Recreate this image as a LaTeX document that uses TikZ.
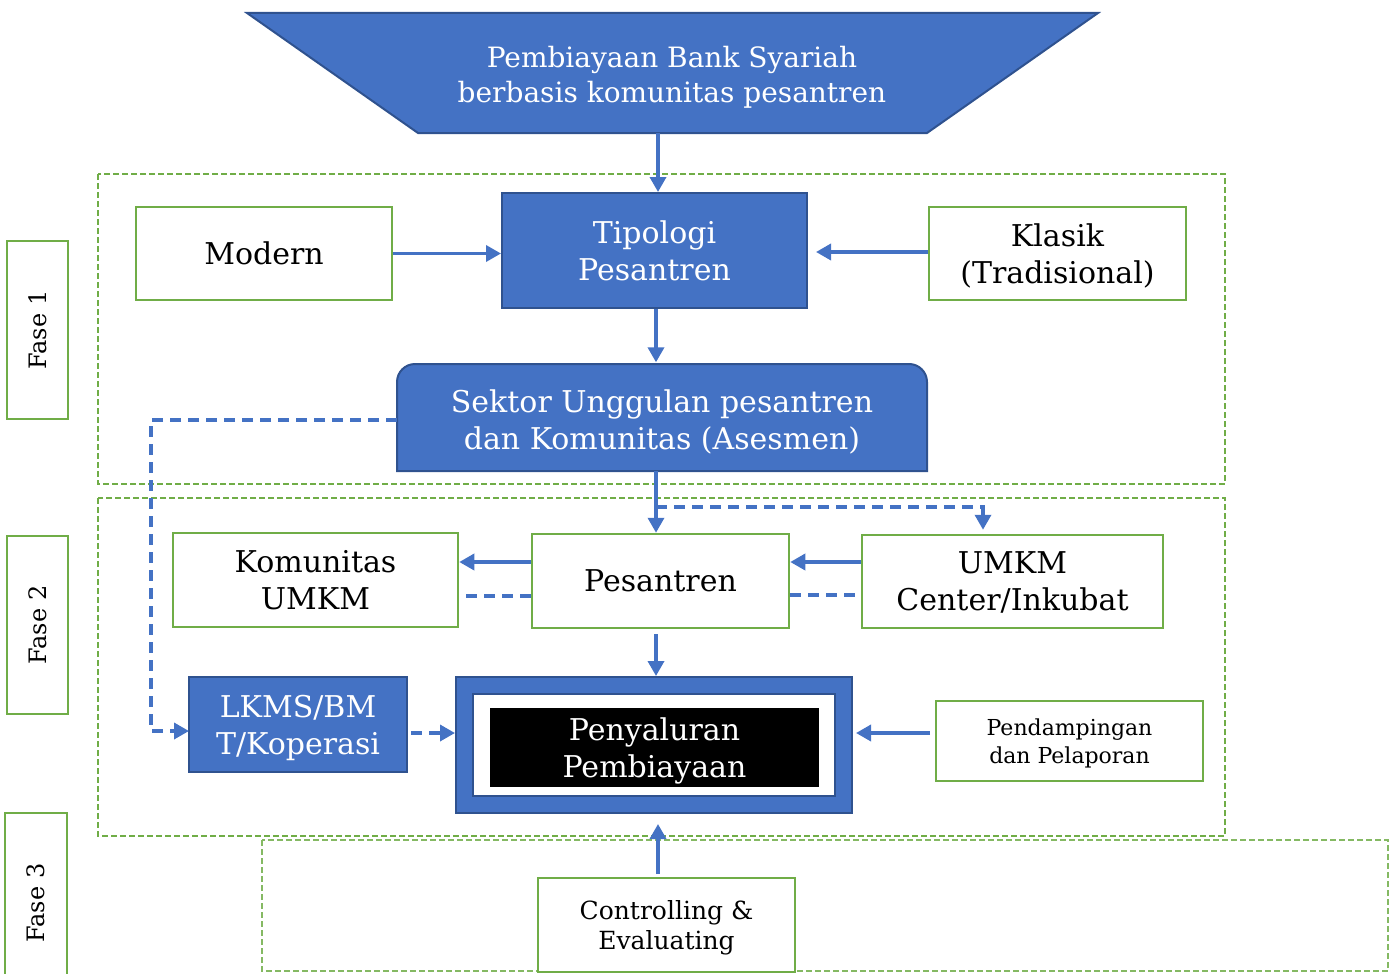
\documentclass[tikz,border=0pt]{standalone}
\usepackage{fontspec}
\setmainfont{DejaVu Serif}
\usetikzlibrary{arrows.meta}
\definecolor{bfill}{HTML}{4472C4}
\definecolor{bdraw}{HTML}{2F528F}
\definecolor{gdraw}{HTML}{70AD47}
\newcommand\fsMain{\fontsize{30}{37}\selectfont}
\newcommand\fsTop{\fontsize{28}{35}\selectfont}
\newcommand\fsCtrl{\fontsize{25}{30}\selectfont}
\newcommand\fsPend{\fontsize{22}{28}\selectfont}
\newcommand\fsFase{\fontsize{24}{28}\selectfont}
\begin{document}
\begin{tikzpicture}[x=1pt,y=-1pt,
  gbox/.style={draw=gdraw, line width=2.5pt, fill=white, inner sep=0pt, align=center, text=black, font=\fsMain, text depth=0pt},
  bbox/.style={draw=bdraw, line width=2pt, fill=bfill, inner sep=0pt, align=center, text=white, font=\fsMain, text depth=0pt},
  arr/.style={draw=bfill, line width=3.5pt, -{Triangle[length=15pt,width=16pt]}},
  dasharr/.style={draw=bfill, line width=3.5pt, dash pattern=on 11pt off 7pt, -{Triangle[length=15pt,width=16pt]}},
  dashln/.style={draw=bfill, line width=3.5pt, dash pattern=on 11pt off 7pt},
  phase/.style={draw=gdraw, line width=2.5pt, dash pattern=on 6pt off 3pt},
  phasethin/.style={draw=gdraw!85, line width=1.8pt, dash pattern=on 6pt off 3pt},
  faselbl/.style={draw=gdraw, line width=2.5pt, fill=white, inner sep=0pt, rotate=90, font=\fsFase}
]
\useasboundingbox (0,0) rectangle (1389,974);

% phase frames
\draw[phase] (98,174) rectangle (1225,484);
\draw[phase] (98,498) rectangle (1225,836);
\draw[phasethin] (262,840) rectangle (1388,971);

% phase labels
\node[faselbl, minimum width=178pt, minimum height=61pt] (f1) at (37.5,330) {Fase 1};
\node[faselbl, minimum width=178pt, minimum height=61pt] (f2) at (37.5,625) {Fase 2};
\node[faselbl, minimum width=180pt, minimum height=62pt] (f3) at (36,903) {Fase 3};

% top trapezoid
\draw[draw=bdraw, line width=2pt, fill=bfill] (247,13) -- (1098,13) -- (927,133) -- (418,133) -- cycle;
\node[text=white, font=\fsTop, align=center] (top) at (672,77.5) {Pembiayaan Bank Syariah\\berbasis komunitas pesantren};
\coordinate (topb) at (658,133);

% fase 1
\node[gbox, minimum width=256pt, minimum height=93pt] (modern) at (264,253.5) {Modern};
\node[bbox, minimum width=305pt, minimum height=115pt] (tip) at (654.5,250.5) {Tipologi\\Pesantren};
\node[gbox, minimum width=257pt, minimum height=93pt] (klasik) at (1057.5,253.5) {Klasik\\(Tradisional)};

\draw[draw=bdraw, line width=2pt, fill=bfill] (397,471) [rounded corners=18pt] -- (397,364) -- (927,364) [sharp corners] -- (927,471) -- cycle;
\node[inner sep=0pt, minimum width=530pt, minimum height=107pt, text=white, align=center, font=\fsMain, text depth=0pt] (sek) at (662,420) {Sektor Unggulan pesantren\\dan Komunitas (Asesmen)};

% fase 2
\node[gbox, minimum width=285pt, minimum height=94pt] (kom) at (315.5,580) {Komunitas\\UMKM};
\node[gbox, minimum width=257pt, minimum height=94pt] (pes) at (660.5,581) {Pesantren};
\node[gbox, minimum width=301pt, minimum height=93pt] (umkm) at (1012.5,581.5) {UMKM\\Center/Inkubat};

\node[bbox, minimum width=218pt, minimum height=95pt] (lkms) at (298,724.5) {LKMS/BM\\T/Koperasi};
\node[bbox, minimum width=396pt, minimum height=136pt] (pen) at (654,745) {};
\node[draw=bdraw, line width=1.5pt, fill=white, minimum width=362pt, minimum height=102pt, inner sep=0pt] (penin) at (654,745) {};
\node[fill=black, text=white, align=center, font=\fsMain, minimum width=329pt, minimum height=79pt, inner sep=0pt, text depth=0pt] (pentext) at (654.5,747.5) {Penyaluran\\Pembiayaan};
\node[gbox, font=\fsPend, minimum width=267pt, minimum height=80pt] (pend) at (1069.5,741) {Pendampingan\\dan Pelaporan};

% fase 3
\node[gbox, font=\fsCtrl, minimum width=257pt, minimum height=94pt] (ctrl) at (666.5,925) {Controlling \&\\Evaluating};

% connectors
\draw[arr] (topb) -- (topb |- tip.north);
\draw[arr] (modern.east) -- (modern.east -| tip.west);
\draw[arr] ([yshift=1.5pt]klasik.west) -- ([yshift=1.5pt,xshift=8pt]klasik.west -| tip.east);
\draw[arr] ([xshift=1.5pt]tip.south) -- ([xshift=1.5pt,yshift=4pt]tip.south |- sek.north);

\coordinate (s1) at (397,420);
\coordinate (s2) at (151,420);
\coordinate (s3) at (189,731);
\draw[dasharr] (s1) -- (s2) |- (s3);

\coordinate (j0) at (656,471);
\coordinate (j1) at (656,507);
\coordinate (j2) at (983,507);
\draw[arr] (j0) -- (j0 |- pes.north);
\draw[dasharr] (j1) -- (j2) -- ([yshift=4pt]j2 |- umkm.north);

\draw[arr] ([yshift=19pt]pes.west) -- ([yshift=19pt]pes.west -| kom.east);
\draw[dashln] ([yshift=-15pt]pes.west) -- ([yshift=-15pt]pes.west -| kom.east);
\draw[arr] ([yshift=19pt]pes.east -| umkm.west) -- ([yshift=19pt]pes.east);
\draw[dashln] ([yshift=-14pt]pes.east) -- ([yshift=-14pt]pes.east -| umkm.west);

\coordinate (p1) at (656,634);
\draw[arr] (p1) -- (p1 |- pen.north);
\coordinate (l1) at (411,733);
\draw[dasharr] (l1) -- (l1 -| pen.west);
\coordinate (d1) at (930,733);
\draw[arr] (d1) -- ([xshift=3pt]d1 -| pen.east);
\coordinate (c1) at (658,874);
\draw[arr] (c1) -- ([yshift=-10pt]c1 |- pen.south);
\end{tikzpicture}
\end{document}
